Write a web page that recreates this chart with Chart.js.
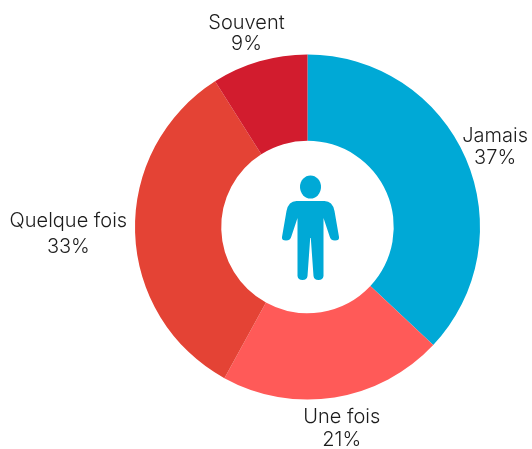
<!DOCTYPE html>
<html>
<head>
<meta charset="utf-8">
<style>html,body{margin:0;padding:0;background:#fff}#w{width:532px;height:449px}</style>
<script src="https://cdn.jsdelivr.net/npm/chart.js@4"></script>
</head>
<body>
<div id="w"><canvas id="c" width="532" height="449"></canvas></div>
<script>
const categories = ["Jamais", "Une fois", "Quelque fois", "Souvent"];
const values = [37, 21, 33, 9];
const colors = ["#00A9D6", "#FF5A58", "#E44335", "#D21C2E"];
const lineGaps = [22, 23, 26, 21];
const FONT = '300 20px Inter';
const labelsPlugin = {
  id: 'outerLabels',
  afterDatasetsDraw(chart) {
    const ctx = chart.ctx;
    ctx.save();
    ctx.font = FONT;
    ctx.fillStyle = '#1c1c1c';
    ctx.textAlign = 'center';
    ctx.textBaseline = 'middle';
    chart.getDatasetMeta(0).data.forEach((arc, i) => {
      const mid = (arc.startAngle + arc.endAngle) / 2;
      const dx = Math.cos(mid), dy = Math.sin(mid);
      const a = categories[i], b = values[i] + '%';
      const w = Math.max(ctx.measureText(a).width, ctx.measureText(b).width);
      const gap = lineGaps[i];
      const r = arc.outerRadius + 8;
      const x = Math.min(arc.x + dx * (r + w / 2), chart.width - 4 - w / 2);
      const y = arc.y + dy * (r + gap);
      ctx.fillText(a, x, y - gap / 2);
      ctx.fillText(b, x, y + gap / 2);
    });
    ctx.restore();
  }
};
const iconPlugin = {
  id: 'personIcon',
  afterDatasetsDraw(chart) {
    const arc = chart.getDatasetMeta(0).data[0];
    const ctx = chart.ctx;
    ctx.save();
    ctx.translate(arc.x + 3, arc.y);
    ctx.fillStyle = colors[0];
    ctx.beginPath();
    ctx.ellipse(0, -40, 10.5, 11.5, 0, 0, Math.PI * 2);
    ctx.fill();
    ctx.beginPath();
    ctx.moveTo(-14, -26);
    ctx.lineTo(14, -26);
    ctx.quadraticCurveTo(22, -26, 24, -16);
    ctx.lineTo(28.5, 10);
    ctx.quadraticCurveTo(29, 13.5, 24.5, 13.5);
    ctx.quadraticCurveTo(20, 13.5, 19, 9);
    ctx.lineTo(13, -9);
    ctx.lineTo(13, 49);
    ctx.quadraticCurveTo(12.5, 53, 8, 53);
    ctx.quadraticCurveTo(3.5, 53, 3, 49);
    ctx.lineTo(0.3, 11);
    ctx.lineTo(-0.3, 11);
    ctx.lineTo(-3, 49);
    ctx.quadraticCurveTo(-3.5, 53, -8, 53);
    ctx.quadraticCurveTo(-12.5, 53, -13, 49);
    ctx.lineTo(-13, -9);
    ctx.lineTo(-19, 9);
    ctx.quadraticCurveTo(-20, 13.5, -24.5, 13.5);
    ctx.quadraticCurveTo(-29, 13.5, -28.5, 10);
    ctx.lineTo(-24, -16);
    ctx.quadraticCurveTo(-22, -26, -14, -26);
    ctx.closePath();
    ctx.fill();
    ctx.restore();
  }
};
new Chart(document.getElementById('c'), {
  type: 'doughnut',
  data: { labels: categories, datasets: [{ data: values, backgroundColor: colors, borderWidth: 0 }] },
  options: {
    responsive: false,
    animation: false,
    cutout: '50%',
    layout: { padding: { left: 135, right: 52, top: 54, bottom: 49 } },
    plugins: { legend: { display: false }, tooltip: { enabled: false } }
  },
  plugins: [labelsPlugin, iconPlugin]
});
</script>
</body>
</html>
